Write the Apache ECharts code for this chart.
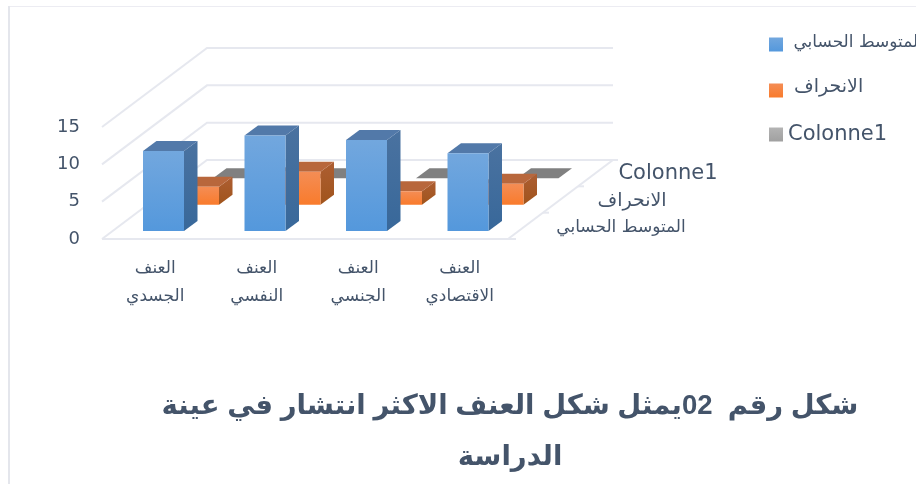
<!DOCTYPE html>
<html>
<head>
<meta charset="utf-8">
<style>html,body{margin:0;padding:0;background:#fff}#chart{width:916px;height:484px}</style>
<script src="https://cdn.jsdelivr.net/npm/echarts@6/dist/echarts.min.js"></script>
</head>
<body>
<div id="chart"></div>
<script>
// Category and series data
const categories = ['العنف\nالجسدي', 'العنف\nالنفسي', 'العنف\nالجنسي', 'العنف\nالاقتصادي'];
const meanValues = [10.7, 12.8, 12.2, 10.4];
const deviationValues = [2.4, 4.4, 1.8, 2.8];
const colonneValues = [0, 0, 0, 0];
const seriesNames = ['المتوسط الحسابي', 'الانحراف', 'Colonne1'];
const valueTicks = [0, 5, 10, 15];
const titleText = 'شكل رقم  02يمثل شكل العنف الاكثر انتشار في عينة\nالدراسة';

const inkColor = '#44546a';
const wallColor = '#e6e8ef';
const arabicFont = '"DejaVu Sans"';

// Oblique projection: the floor recedes by this vector over its full depth.
const DEPTH_X = 105, DEPTH_Y = -79;
const ROW_X = DEPTH_X / 3, ROW_Y = DEPTH_Y / 3;
const BAR_WIDTH = 41, BAR_DX = 13.5, BAR_DY = -10;

function vgrad(top, bottom) {
  return { type: 'linear', x: 0, y: 0, x2: 0, y2: 1,
    colorStops: [{ offset: 0, color: top }, { offset: 1, color: bottom }] };
}

const palettes = [
  { front: vgrad('#72a7de', '#5498dc'), top: '#5279a9', side: vgrad('#4a72a0', '#38689a'), swatch: vgrad('#72a7de', '#5498dc') },
  { front: vgrad('#f48d55', '#f97b2c'), top: '#b8673c', side: vgrad('#ad5e32', '#a0541c'), swatch: vgrad('#f48d55', '#f97b2c') },
  { front: vgrad('#a5a5a5', '#a5a5a5'), top: '#808080', side: '#777777', swatch: vgrad('#b4b4b4', '#a0a0a0') }
];

// Draws one cuboid: front, right and top faces sheared along the depth vector.
function cuboid(row) {
  return function (params, api) {
    const cat = api.value(0);
    const base = api.coord([cat, 0]);
    const top = api.coord([cat, api.value(1)]);
    const ox = -9.75 + row * ROW_X, oy = -8 + row * ROW_Y;
    const x0 = base[0] + ox, x1 = x0 + BAR_WIDTH;
    const yb = base[1] + oy, yt = top[1] + oy;
    const p = palettes[row];
    const face = (pts, fill) => ({ type: 'polygon', shape: { points: pts }, style: { fill: fill } });
    return { type: 'group', children: [
      face([[x1, yb], [x1 + BAR_DX, yb + BAR_DY], [x1 + BAR_DX, yt + BAR_DY], [x1, yt]], p.side),
      face([[x0, yt], [x1, yt], [x1 + BAR_DX, yt + BAR_DY], [x0 + BAR_DX, yt + BAR_DY]], p.top),
      face([[x0, yb], [x1, yb], [x1, yt], [x0, yt]], p.front)
    ] };
  };
}

// Side wall and back wall gridlines for each value tick, plus the floor outline.
function wallLines(params, api) {
  const v = api.value(1);
  const last = categories.length - 1;
  const band = api.size([1, 0])[0];
  const left = api.coord([0, v]);
  const x0 = left[0] - band / 2, y = left[1];
  const xr = api.coord([last, v])[0] + band / 2;
  const line = (pts, w) => ({ type: 'polyline', shape: { points: pts },
    style: { fill: null, stroke: wallColor, lineWidth: w || 2 } });
  const children = [
    line([[x0, y], [x0 + DEPTH_X, y + DEPTH_Y], [xr + DEPTH_X, y + DEPTH_Y]])
  ];
  if (v === 0) {
    children.push(line([[x0, y], [xr + 8, y]]));
    children.push(line([[xr, y], [xr + DEPTH_X, y + DEPTH_Y], [xr + DEPTH_X + 5, y + DEPTH_Y]]));
    [1, 2].forEach(function (k) {
      const tx = xr + k * ROW_X, ty = y + k * ROW_Y;
      children.push(line([[tx, ty], [tx + 6, ty]]));
    });
  }
  return { type: 'group', children: children };
}

// Names of the depth rows, written beside the right edge of the floor.
const depthLabelOffsets = [[113, -11], [124, -38], [160, -65]];
const depthLabelSizes = [17, 19, 21];
function depthLabels(params, api) {
  const row = api.value(0);
  const band = api.size([1, 0])[0];
  const c = api.coord([categories.length - 1, 0]);
  const xr = c[0] + band / 2;
  const o = depthLabelOffsets[row];
  return { type: 'text', style: {
    text: seriesNames[row], x: xr + o[0], y: c[1] + o[1],
    align: 'center', verticalAlign: 'middle', fill: inkColor,
    font: depthLabelSizes[row] + 'px ' + arabicFont } };
}

const toData = values => values.map((v, i) => [i, v]);

const option = {
  animation: false,
  backgroundColor: '#ffffff',
  textStyle: { fontFamily: arabicFont },
  title: {
    text: titleText, left: 505, top: 376, textAlign: 'center',
    textStyle: { color: inkColor, fontSize: 27.5, fontWeight: 'bold', lineHeight: 51,
      fontFamily: '"Liberation Sans","DejaVu Sans"' }
  },
  grid: { left: 102, top: 127, width: 406, height: 112, containLabel: false },
  xAxis: {
    type: 'category', data: categories,
    axisLine: { show: false }, axisTick: { show: false }, splitLine: { show: false },
    axisLabel: { color: inkColor, fontSize: 17, lineHeight: 28, margin: 16, interval: 0,
      padding: [0, 0, 0, 5], fontFamily: arabicFont }
  },
  yAxis: {
    type: 'value', min: 0, max: 15, interval: 5,
    axisLine: { show: false }, axisTick: { show: false }, splitLine: { show: false },
    axisLabel: { color: inkColor, fontSize: 18, margin: 22, padding: [0, 0, 5, 0], fontFamily: arabicFont }
  },
  legend: {
    orient: 'vertical', left: 769, top: 34, padding: 0, itemWidth: 14, itemHeight: 14, itemGap: 26.5,
    icon: 'rect', selectedMode: false,
    data: seriesNames.map((name, i) => ({ name: name, itemStyle: { color: palettes[i].swatch } })),
    formatter: name => {
      if (name === seriesNames[2]) return '{latin|' + name + '}';
      return name === seriesNames[0] ? '{mean| ' + name + '}' : '{dev| ' + name + '}';
    },
    textStyle: {
      color: inkColor, fontFamily: arabicFont,
      rich: {
        latin: { fontSize: 21, color: inkColor, fontFamily: arabicFont },
        mean: { fontSize: 17, color: inkColor, fontFamily: arabicFont, padding: [0, 0, 4, 0] },
        dev: { fontSize: 19, color: inkColor, fontFamily: arabicFont, padding: [0, 0, 6, 0] }
      }
    }
  },
  graphic: [
    { type: 'rect', shape: { x: 8, y: 6, width: 908, height: 1 }, style: { fill: '#ececf2' }, silent: true },
    { type: 'rect', shape: { x: 8, y: 6, width: 2, height: 478 }, style: { fill: '#e4e6ec' }, silent: true }
  ],
  series: [
    { type: 'custom', name: 'walls', z: 1, clip: false, renderItem: wallLines, silent: true,
      data: valueTicks.map(v => [0, v]) },
    { type: 'custom', name: seriesNames[2], z: 2, clip: false, renderItem: cuboid(2), data: toData(colonneValues) },
    { type: 'custom', name: seriesNames[1], z: 3, clip: false, renderItem: cuboid(1), data: toData(deviationValues) },
    { type: 'custom', name: seriesNames[0], z: 4, clip: false, renderItem: cuboid(0), data: toData(meanValues) },
    { type: 'custom', name: 'depth', z: 5, clip: false, renderItem: depthLabels, silent: true,
      data: seriesNames.map((n, i) => [i, 0]) }
  ]
};

const chart = echarts.init(document.getElementById('chart'), null, { renderer: 'canvas' });
chart.setOption(option);
</script>
</body>
</html>
